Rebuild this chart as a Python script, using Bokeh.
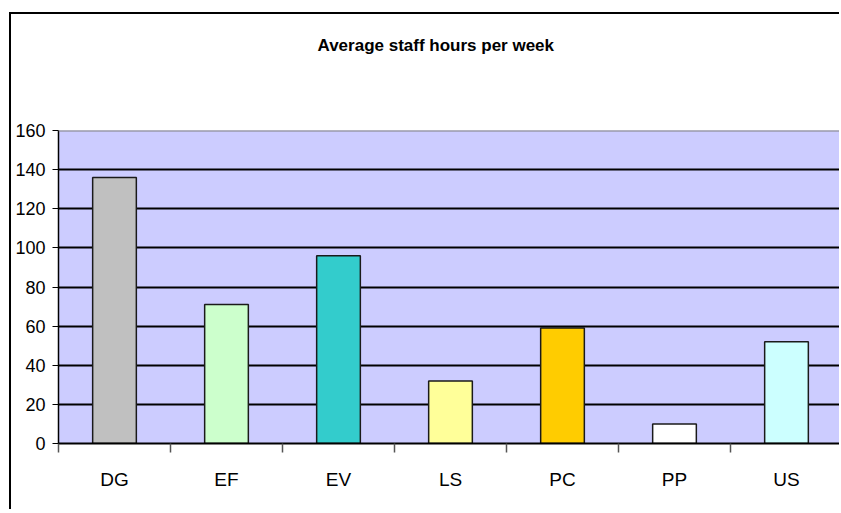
from bokeh.plotting import figure
from bokeh.models import Range1d, FixedTicker, CustomJSTickFormatter, Span, LinearAxis, Title
from bokeh.embed import file_html
from bokeh.resources import INLINE

categories = ["DG", "EF", "EV", "LS", "PC", "PP", "US"]
hours = [136, 71, 96, 32, 59, 10, 52]
bar_colors = ["#C0C0C0", "#CCFFCC", "#33CCCC", "#FFFF99", "#FFCC00", "#FFFFFF", "#CCFFFF"]
y_ticks = [0, 20, 40, 60, 80, 100, 120, 140, 160]
title_text = "Average staff hours per week"

xs = [i + 0.5 for i in range(len(categories))]

FONT = "Liberation Sans"

p = figure(width=830, height=497, output_backend="svg", toolbar_location=None,
           x_range=Range1d(0, 783 / 112), y_range=Range1d(0, 160),
           min_border_left=47, min_border_right=0, min_border_top=116, min_border_bottom=68,
           x_axis_type=None)
p.styles = {"border-left": "2px solid black", "border-top": "2px solid black",
            "margin-top": "12px", "margin-left": "9px"}

p.background_fill_color = "#CCCCFF"
p.border_fill_color = "white"
p.outline_line_color = None

p.vbar(x=xs, top=hours, width=0.39, bottom=0, fill_color=bar_colors,
       line_color="#1a1a1a", line_width=1.5)

# spacer between the title and the plot frame
p.add_layout(Title(text=" ", text_font_size="1px", standoff=73), "above")

p.title.text = title_text
p.title.text_font = FONT
p.title.text_font_style = "bold"
p.title.text_font_size = "17px"
p.title.text_color = "black"
p.title.align = "left"
p.title.offset = 259
p.title.vertical_align = "bottom"
p.title.standoff = 0

# y axis
ya = p.yaxis[0]
ya.ticker = FixedTicker(ticks=y_ticks)
ya.axis_line_color = "black"
ya.axis_line_width = 1.5
ya.major_tick_out = 6
ya.major_tick_in = 0
ya.major_tick_line_color = "black"
ya.minor_tick_line_color = None
ya.major_label_text_font = FONT
ya.major_label_text_font_size = "18px"
ya.major_label_text_color = "black"
ya.major_label_standoff = 7

p.ygrid.ticker = FixedTicker(ticks=y_ticks[1:-1])
p.ygrid.grid_line_color = "black"
p.ygrid.grid_line_width = 2
p.xgrid.grid_line_color = None

p.add_layout(Span(location=160, dimension="width", line_color="#808080", line_width=2))

# x axis
xa = LinearAxis(ticker=FixedTicker(ticks=xs, minor_ticks=list(range(len(categories) + 1))),
                formatter=CustomJSTickFormatter(args=dict(labels=categories),
                                                code="return labels[Math.floor(tick)];"))
xa.axis_line_color = "black"
xa.axis_line_width = 2
xa.major_tick_line_color = None
xa.major_tick_out = 0
xa.major_tick_in = 0
xa.minor_tick_line_color = "#555555"
xa.minor_tick_line_width = 1.5
xa.minor_tick_out = 9
xa.minor_tick_in = 0
xa.major_label_text_font = FONT
xa.major_label_text_font_size = "19px"
xa.major_label_text_color = "black"
xa.major_label_standoff = 16
p.add_layout(xa, "below")

open("out.html", "w").write(file_html(p, INLINE))
